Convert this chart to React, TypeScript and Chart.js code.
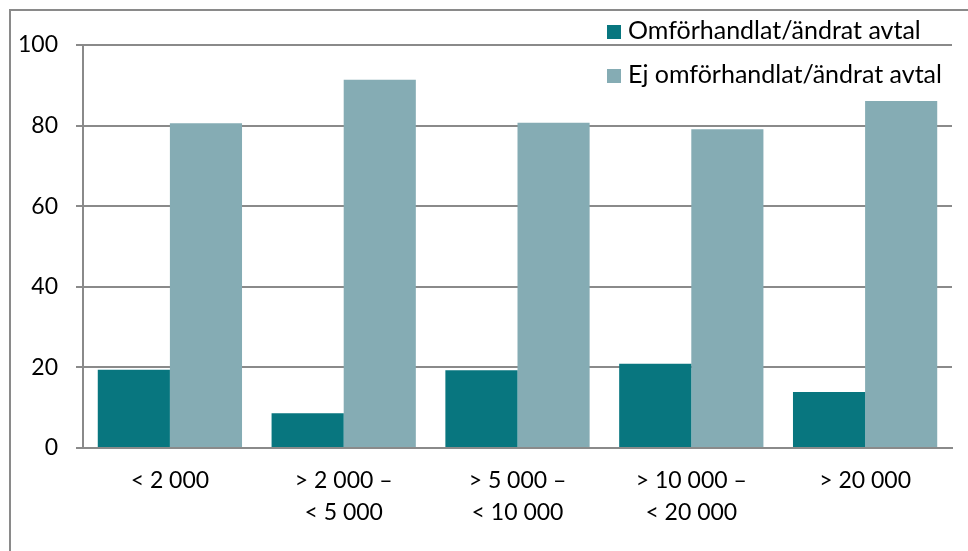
import React, { useEffect, useRef } from "react";
import { Chart, registerables } from "chart.js";

Chart.register(...registerables);

const categories: string[][] = [
  ["< 2 000"],
  ["> 2 000 –", "< 5 000"],
  ["> 5 000 –", "< 10 000"],
  ["> 10 000 –", "< 20 000"],
  ["> 20 000"],
];
const seriesNames = ["Omförhandlat/ändrat avtal", "Ej omförhandlat/ändrat avtal"];
const renegotiated = [19.4, 8.6, 19.3, 20.9, 13.9];
const notRenegotiated = [80.6, 91.4, 80.7, 79.1, 86.1];
const yTicks = [0, 20, 40, 60, 80, 100];

const DARK = "#08767F";
const LIGHT = "#85ACB4";
const GRID = "#8a8a8a";
const FONT = "Lato";

export default function App() {
  const ref = useRef<HTMLCanvasElement | null>(null);

  useEffect(() => {
    document.body.style.margin = "0";
    const canvas = ref.current;
    if (!canvas) return;

    const framePlugin = {
      id: "frame",
      beforeDraw(chart: any) {
        const ctx = chart.ctx;
        ctx.save();
        ctx.strokeStyle = GRID;
        ctx.lineWidth = 2;
        ctx.strokeRect(10, 10, chart.width + 20, chart.height + 20);
        ctx.restore();
      },
    };

    const legendPlugin = {
      id: "customLegend",
      afterDraw(chart: any) {
        const ctx = chart.ctx;
        ctx.save();
        ctx.font = `25px ${FONT}`;
        ctx.textBaseline = "middle";
        chart.data.datasets.forEach((ds: any, i: number) => {
          const y = 31 + i * 44;
          ctx.fillStyle = ds.backgroundColor;
          ctx.fillRect(607, y - 6, 14, 14);
          ctx.fillStyle = "#000";
          ctx.fillText(ds.label, 628, y);
        });
        ctx.restore();
      },
    };

    const chart = new Chart(canvas, {
      type: "bar",
      data: {
        labels: categories,
        datasets: [
          { label: seriesNames[0], data: renegotiated, backgroundColor: DARK },
          { label: seriesNames[1], data: notRenegotiated, backgroundColor: LIGHT },
        ],
      },
      options: {
        animation: false,
        responsive: false,
        maintainAspectRatio: false,
        layout: { padding: { left: 0, top: 45, right: 16, bottom: 0 } },
        datasets: {
          bar: { categoryPercentage: 0.83, barPercentage: 1.0 },
        },
        plugins: {
          legend: { display: false },
          tooltip: { enabled: false },
        },
        scales: {
          x: {
            grid: { display: false, drawTicks: false },
            border: { display: true, color: GRID, width: 2 },
            ticks: {
              color: "#000",
              font: { family: FONT, size: 23, lineHeight: 1.42 },
              padding: 16,
              maxRotation: 0,
              autoSkip: false,
            },
            afterFit(scale: any) {
              scale.height = 103;
            },
          },
          y: {
            min: 0,
            max: 100,
            afterBuildTicks(scale: any) {
              scale.ticks = yTicks.map((v) => ({ value: v }));
            },
            grid: { color: GRID, lineWidth: 2, tickLength: 7, drawTicks: true },
            border: { display: true, color: GRID, width: 2 },
            ticks: {
              color: "#000",
              font: { family: FONT, size: 23 },
              padding: 18,
            },
            afterFit(scale: any) {
              scale.width = 83;
            },
          },
        },
      },
      plugins: [framePlugin, legendPlugin],
    });

    return () => chart.destroy();
  }, []);

  return (
    <div style={{ position: "fixed", left: 0, top: 0, width: 968, height: 551, background: "#fff" }}>
      <canvas ref={ref} width={968} height={551} style={{ width: 968, height: 551 }} />
    </div>
  );
}
